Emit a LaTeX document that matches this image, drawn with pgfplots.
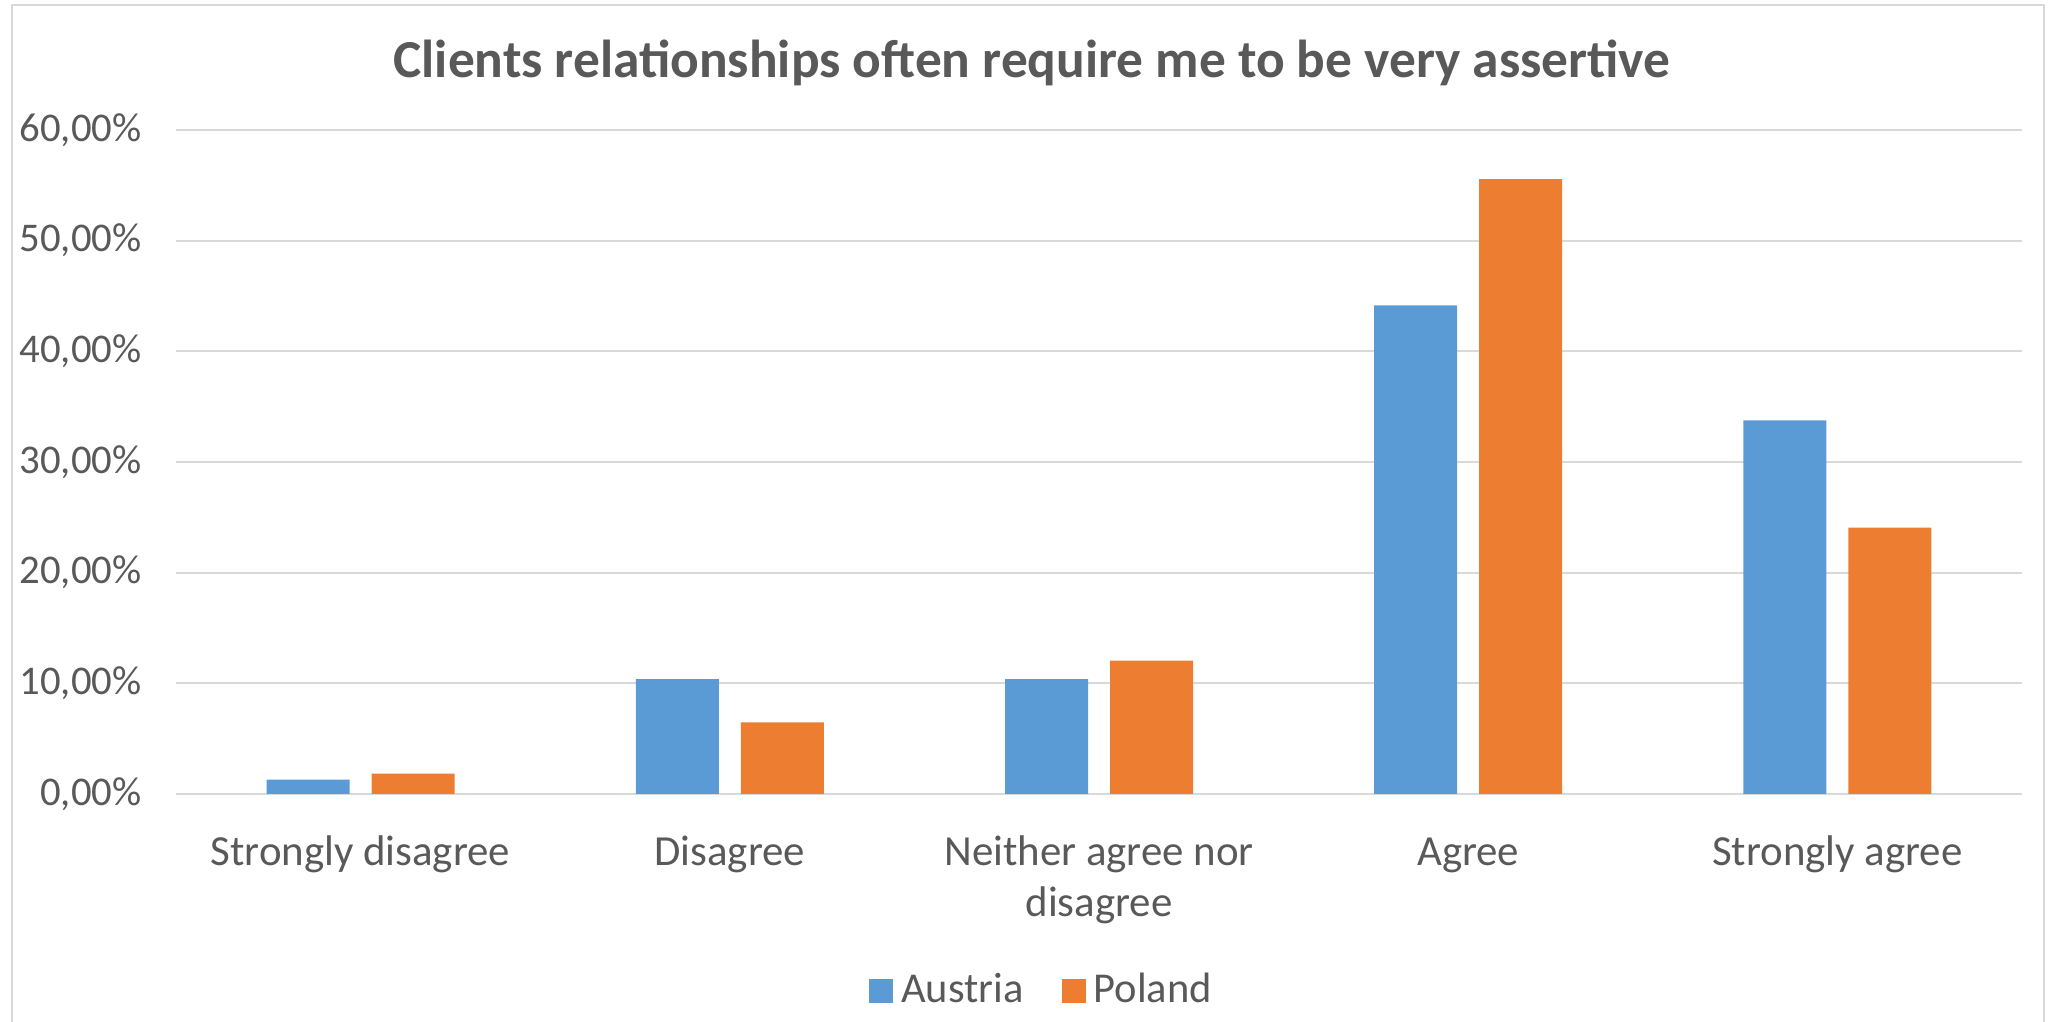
\documentclass[border=0pt]{standalone}
\usepackage{fontspec}
\setmainfont{Carlito}
\usepackage{pgfplots}
\pgfplotsset{compat=1.18}
\definecolor{austria}{HTML}{5B9BD5}
\definecolor{poland}{HTML}{ED7D31}
\definecolor{gridgray}{HTML}{D9D9D9}
\definecolor{txtgray}{HTML}{595959}
\begin{document}
\begin{tikzpicture}
\useasboundingbox (0,0) rectangle (20.48,10.22);
\draw[gridgray, line width=0.6pt] (0.12,-0.1) -- (0.12,10.17) -- (20.44,10.17) -- (20.44,-0.1);
\node[font=\fontsize{15.2pt}{18pt}\selectfont\bfseries, text=txtgray] at (10.32,9.59) {Clients relationships often require me to be very assertive};
\begin{axis}[
  at={(1.76cm,2.28cm)}, anchor=south west,
  scale only axis, width=18.46cm, height=6.64cm,
  xmin=-0.5, xmax=4.5, ymin=0, ymax=60,
  ybar=0.22cm, bar width=0.83cm,
  axis line style={draw=none},
  tick style={draw=none},
  ymajorgrids, major grid style={draw=gridgray, line width=0.6pt},
  ytick={0,10,20,30,40,50,60},
  yticklabels={{0,00\%},{10,00\%},{20,00\%},{30,00\%},{40,00\%},{50,00\%},{60,00\%}},
  xtick={0,1,2,3,4},
  xticklabels={\strut Strongly disagree, \strut Disagree, {\strut Neither agree nor\\disagree}, \strut Agree, \strut Strongly agree},
  yticklabel style={font=\fontsize{11.6pt}{15.2pt}\selectfont, text=txtgray, anchor=east, xshift=-0.22cm},
  xticklabel style={font=\fontsize{12.2pt}{14.5pt}\selectfont, text=txtgray, align=center, anchor=north, yshift=-0.08cm},
  legend columns=2,
  legend style={at={(0.4705,-0.296)}, anchor=center, draw=none, fill=none,
    font=\fontsize{12.1pt}{15.2pt}\selectfont, text=txtgray,
    /tikz/every even column/.append style={column sep=0.3cm},
    nodes={inner xsep=0.08cm}},
  legend image code/.code={\fill[#1] (0cm,-0.12cm) rectangle (0.24cm,0.12cm);},
]
\addplot[fill=austria, draw=none] coordinates {(0,1.30) (1,10.39) (2,10.39) (3,44.16) (4,33.77)};
\addplot[fill=poland, draw=none] coordinates {(0,1.85) (1,6.48) (2,12.04) (3,55.56) (4,24.07)};
\legend{Austria, Poland}
\end{axis}
\end{tikzpicture}
\end{document}
